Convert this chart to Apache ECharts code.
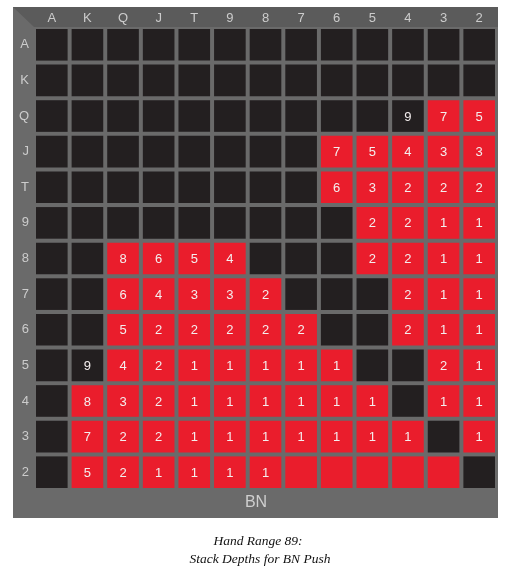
<!DOCTYPE html>
<html>
<head>
<meta charset="utf-8">
<script src="https://cdn.jsdelivr.net/npm/echarts@6/dist/echarts.min.js"></script>
<style>html,body{margin:0;padding:0;background:#fff;}#chart{width:514px;height:580px;}</style>
</head>
<body>
<div id="chart"></div>
<script>
const ranks = ['A','K','Q','J','T','9','8','7','6','5','4','3','2'];
// stack depth labels per row (row = first card, column = second card); null = no label
const n = null;
const depth = [
  [n,n,n,n,n,n,n,n,n,n,n,n,n],
  [n,n,n,n,n,n,n,n,n,n,n,n,n],
  [n,n,n,n,n,n,n,n,n,n,9,7,5],
  [n,n,n,n,n,n,n,n,7,5,4,3,3],
  [n,n,n,n,n,n,n,n,6,3,2,2,2],
  [n,n,n,n,n,n,n,n,n,2,2,1,1],
  [n,n,8,6,5,4,n,n,n,2,2,1,1],
  [n,n,6,4,3,3,2,n,n,n,2,1,1],
  [n,n,5,2,2,2,2,2,n,n,2,1,1],
  [n,9,4,2,1,1,1,1,1,n,n,2,1],
  [n,8,3,2,1,1,1,1,1,1,n,1,1],
  [n,7,2,2,1,1,1,1,1,1,1,n,1],
  [n,5,2,1,1,1,1,n,n,n,n,n,n]
];
// 1 = in push range (red), 0 = not (black)
const push = [
  [0,0,0,0,0,0,0,0,0,0,0,0,0],
  [0,0,0,0,0,0,0,0,0,0,0,0,0],
  [0,0,0,0,0,0,0,0,0,0,0,1,1],
  [0,0,0,0,0,0,0,0,1,1,1,1,1],
  [0,0,0,0,0,0,0,0,1,1,1,1,1],
  [0,0,0,0,0,0,0,0,0,1,1,1,1],
  [0,0,1,1,1,1,0,0,0,1,1,1,1],
  [0,0,1,1,1,1,1,0,0,0,1,1,1],
  [0,0,1,1,1,1,1,1,0,0,1,1,1],
  [0,0,1,1,1,1,1,1,1,0,0,1,1],
  [0,1,1,1,1,1,1,1,1,1,0,1,1],
  [0,1,1,1,1,1,1,1,1,1,1,0,1],
  [0,1,1,1,1,1,1,1,1,1,1,1,0]
];
const xTitle = 'BN';
const caption1 = 'Hand Range 89:';
const caption2 = 'Stack Depths for BN Push';

const cells = [];
for (let r = 0; r < ranks.length; r++) {
  for (let c = 0; c < ranks.length; c++) {
    cells.push([c, r, push[r][c], depth[r][c] == null ? '' : String(depth[r][c])]);
  }
}

const RED = '#ea1d2c', BLACK = '#231f20';
const chart = echarts.init(document.getElementById('chart'), null, {renderer: 'canvas'});
chart.setOption({
  animation: false,
  backgroundColor: '#ffffff',
  graphic: [
    {type: 'rect', z: -10, shape: {x: 13, y: 7, width: 485, height: 511}, style: {fill: '#6a6a6a'}},
    {type: 'polygon', z: -9, shape: {points: [[13,7],[498,7],[498,27],[34,27]]}, style: {fill: '#5b5b5b'}},
    {type: 'text', z: 5, style: {text: xTitle, x: 256, y: 503, align: 'center', verticalAlign: 'middle', fill: '#cfcfcf', font: '16px "Liberation Sans", Arial, sans-serif'}},
    {type: 'text', z: 5, style: {text: caption1, x: 258, y: 541, align: 'center', verticalAlign: 'middle', fill: '#111', font: 'italic 13.5px "Liberation Serif", "Times New Roman", serif'}},
    {type: 'text', z: 5, style: {text: caption2, x: 260, y: 559, align: 'center', verticalAlign: 'middle', fill: '#111', font: 'italic 13.5px "Liberation Serif", "Times New Roman", serif'}}
  ],
  grid: {left: 34, top: 27, width: 463, height: 463},
  xAxis: {
    type: 'category', position: 'top', data: ranks,
    axisLine: {show: false}, axisTick: {show: false}, splitLine: {show: false},
    axisLabel: {color: '#cccccc', fontSize: 13, fontFamily: '"Liberation Sans", Arial, sans-serif', margin: 2}
  },
  yAxis: {
    type: 'category', inverse: true, data: ranks,
    axisLine: {show: false}, axisTick: {show: false}, splitLine: {show: false},
    axisLabel: {color: '#cccccc', fontSize: 13, fontFamily: '"Liberation Sans", Arial, sans-serif', margin: 5}
  },
  series: [{
    type: 'custom',
    data: cells,
    renderItem: function (params, api) {
      const p = api.coord([api.value(0), api.value(1)]);
      const s = api.size([1, 1]);
      const w = s[0] - 4, h = s[1] - 4;
      const idx = params.dataIndex;
      const isPush = cells[idx][2] === 1;
      const label = cells[idx][3];
      return {
        type: 'group',
        children: [
          {type: 'rect', shape: {x: p[0] - w / 2, y: p[1] - h / 2, width: w, height: h}, style: {fill: isPush ? RED : BLACK}},
          {type: 'text', style: {text: label, x: p[0], y: p[1] + 1, align: 'center', verticalAlign: 'middle', fill: '#f4eeee', font: '13px "Liberation Sans", Arial, sans-serif'}}
        ]
      };
    }
  }]
});
</script>
</body>
</html>
